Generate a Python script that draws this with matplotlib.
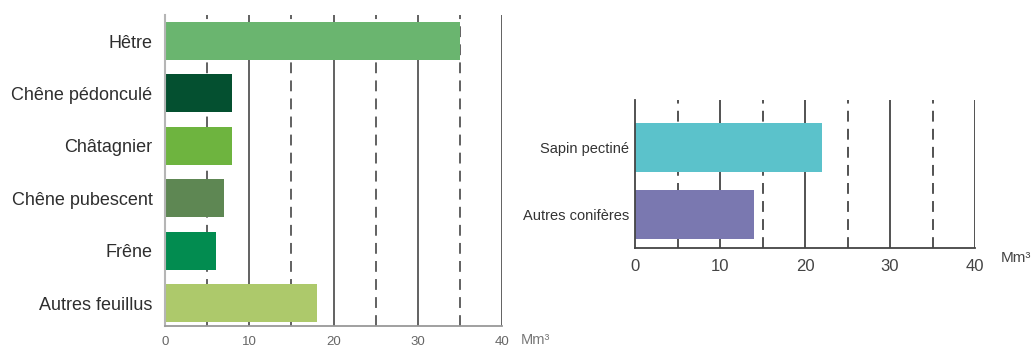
import matplotlib.pyplot as plt
from matplotlib.ticker import FixedLocator

# volumes sur pied par essence (Mm³)
feuillus = ["Hêtre", "Chêne pédonculé", "Châtagnier", "Chêne pubescent", "Frêne", "Autres feuillus"]
vol_feuillus = [35, 8, 8, 7, 6, 18]
col_feuillus = ["#6ab56f", "#045030", "#6eb43f", "#5e8753", "#028c50", "#adc96b"]

coniferes = ["Sapin pectiné", "Autres conifères"]
vol_coniferes = [22, 14]
col_coniferes = ["#5bc2cb", "#7a78b0"]

xticks = [0, 10, 20, 30, 40]
solid_lines = [10, 20, 30, 40]
dashed_lines = [5, 15, 25, 35]

plt.rcParams["font.family"] = ["Liberation Sans", "DejaVu Sans"]

fig = plt.figure(figsize=(10.32, 3.47), dpi=100)


def draw_grid(ax, color):
    for x in solid_lines:
        ax.axvline(x, color=color, lw=1.3, zorder=0)
    for x in dashed_lines:
        ax.axvline(x, color=color, lw=1.3, dashes=(6, 4), zorder=0)


# feuillus
ax1 = fig.add_axes([165 / 1032, 1 - 326 / 347, 337 / 1032, 311 / 347])
pos = range(len(feuillus))
ax1.barh(pos, vol_feuillus, height=0.725, color=col_feuillus, zorder=2)
draw_grid(ax1, "#555555")
ax1.set_xlim(0, 40)
ax1.set_ylim(5 + 23 / 52.4, -26 / 52.4)
ax1.xaxis.set_major_locator(FixedLocator(xticks))
ax1.set_yticks(list(pos), feuillus, fontsize=13, color="#2e2e2e")
ax1.tick_params(axis="y", length=0, pad=9)
ax1.tick_params(axis="x", length=0, pad=7, labelsize=9.5, labelcolor="#666666")
for s in ["top", "right"]:
    ax1.spines[s].set_visible(False)
ax1.spines["left"].set_color("#b5b5b5")
ax1.spines["left"].set_linewidth(1.5)
ax1.spines["bottom"].set_color("#999999")
ax1.spines["bottom"].set_linewidth(1.3)
ax1.text(42.2, -0.045, "Mm³", transform=ax1.get_xaxis_transform(),
         fontsize=10.5, color="#777777", va="center", ha="left")

# conifères
ax2 = fig.add_axes([635 / 1032, 1 - 248 / 347, 340 / 1032, 148 / 347])
pos2 = range(len(coniferes))
ax2.barh(pos2, vol_coniferes, height=0.731, color=col_coniferes, zorder=2)
draw_grid(ax2, "#444444")
ax2.set_xlim(0, 40)
ax2.set_ylim(1.5, -0.709)
ax2.xaxis.set_major_locator(FixedLocator(xticks))
ax2.set_yticks(list(pos2), coniferes, fontsize=10.5, color="#333333")
ax2.tick_params(axis="y", length=0, pad=4)
ax2.tick_params(axis="x", length=0, pad=8, labelsize=12, labelcolor="#444444")
for s in ["top", "right"]:
    ax2.spines[s].set_visible(False)
ax2.spines["left"].set_color("#444444")
ax2.spines["left"].set_linewidth(1.3)
ax2.spines["bottom"].set_color("#444444")
ax2.spines["bottom"].set_linewidth(1.3)
ax2.text(43.0, -0.07, "Mm³", transform=ax2.get_xaxis_transform(),
         fontsize=11, color="#444444", va="center", ha="left")

fig.savefig("out.png", dpi=100)
